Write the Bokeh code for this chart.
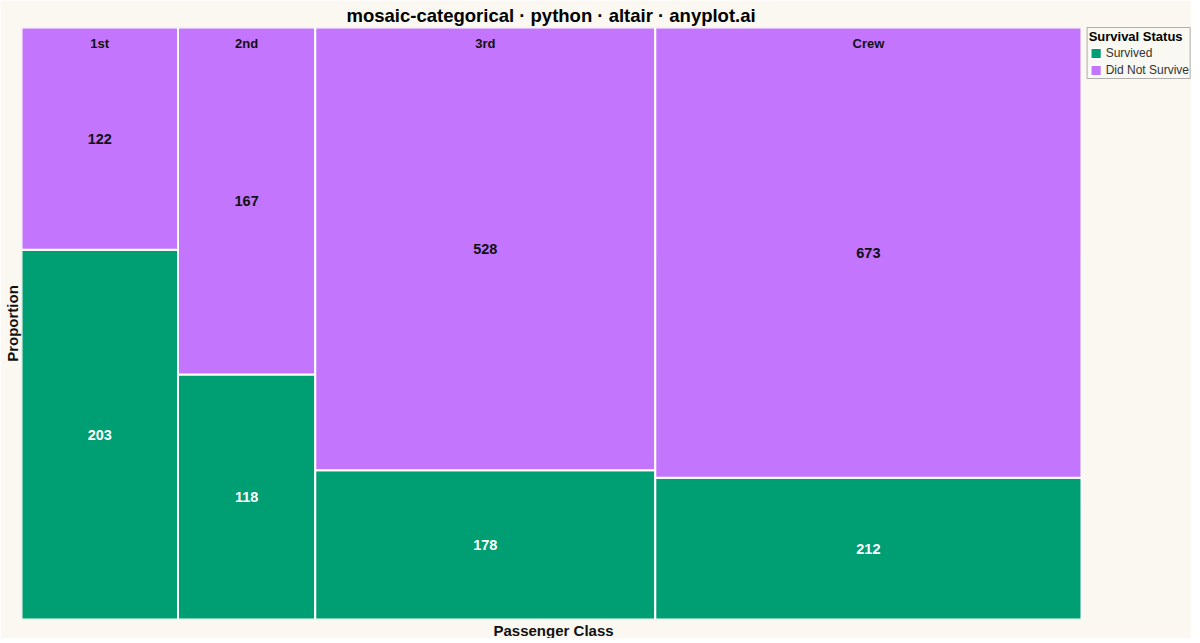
import numpy as np
from bokeh.plotting import figure
from bokeh.models import Title, Legend, LegendItem, ColumnDataSource, Range1d
from bokeh.core.properties import value
from bokeh.embed import file_html
from bokeh.resources import INLINE

# ---- data ----
classes = ["1st", "2nd", "3rd", "Crew"]
survived = [203, 118, 178, 212]
not_survived = [122, 167, 528, 673]
status_labels = ["Survived", "Did Not Survive"]
status_colors = ["#009E73", "#C475FD"]

FONT = "Liberation Sans"
BG = "#FAF8F1"

FRAME_W = 1170      # whole frame, legend lives in its right-hand part
MOSAIC_W = 1060     # pixels used by the mosaic itself

surv = np.array(survived, dtype=float)
dead = np.array(not_survived, dtype=float)
totals = surv + dead
right = np.cumsum(totals) / totals.sum()
left = right - totals / totals.sum()
frac = surv / totals

src_s = ColumnDataSource(dict(left=left, right=right, bottom=np.zeros(4), top=frac,
                              x=(left + right) / 2, y=frac / 2,
                              label=[str(v) for v in survived]))
src_d = ColumnDataSource(dict(left=left, right=right, bottom=frac, top=np.ones(4),
                              x=(left + right) / 2, y=(frac + 1) / 2,
                              label=[str(v) for v in not_survived]))

p = figure(frame_width=FRAME_W, frame_height=592,
           x_range=Range1d(0, FRAME_W / MOSAIC_W), y_range=Range1d(0, 1),
           x_axis_location=None, y_axis_location=None, toolbar_location=None,
           output_backend="svg", background_fill_color=BG, border_fill_color=BG,
           min_border_left=0, min_border_right=0, min_border_top=0, min_border_bottom=0)
p.outline_line_color = None
p.grid.visible = False

p.title.text = "mosaic-categorical · python · altair · anyplot.ai"
p.title.text_font = FONT
p.title.text_font_size = "18.5px"
p.title.text_font_style = "bold"
p.title.align = "left"
p.title.offset = 325
p.title.text_color = "#000000"
p.title.standoff = 4

r_s = p.quad(left="left", right="right", bottom="bottom", top="top", source=src_s,
             fill_color=status_colors[0], line_color="white", line_width=2)
r_d = p.quad(left="left", right="right", bottom="bottom", top="top", source=src_d,
             fill_color=status_colors[1], line_color="white", line_width=2)

p.text(x="x", y="y", text="label", source=src_s, text_align="center",
       text_baseline="middle", text_font=value(FONT), text_font_style="bold",
       text_font_size="14.5px", text_color="white")
p.text(x="x", y="y", text="label", source=src_d, text_align="center",
       text_baseline="middle", text_font=value(FONT), text_font_style="bold",
       text_font_size="14.5px", text_color="#111111")

p.text(x=(left + right) / 2, y=np.ones(4), text=classes, y_offset=16,
       text_align="center", text_baseline="middle", text_font=value(FONT),
       text_font_style="bold", text_font_size="13px", text_color="#111111")

xl = Title(text="Passenger Class", align="left", offset=472, text_font=FONT,
           text_font_size="15px", text_font_style="bold", standoff=0,
           text_color="#111111")
p.add_layout(xl, "below")
yl = Title(text="Proportion", align="center", text_font=FONT,
           text_font_size="15px", text_font_style="bold", standoff=2,
           text_color="#111111")
p.add_layout(yl, "left")

legend = Legend(items=[LegendItem(label=status_labels[0], renderers=[r_s]),
                       LegendItem(label=status_labels[1], renderers=[r_d])],
                title="Survival Status", location="top_right")
legend.title_text_font = FONT
legend.title_text_font_style = "bold"
legend.title_text_font_size = "13px"
legend.title_text_color = "#000000"
legend.title_standoff = 2
legend.label_text_font = FONT
legend.label_text_font_size = "12px"
legend.label_text_color = "#333333"
legend.label_standoff = 3
legend.glyph_width = 14
legend.glyph_height = 14
legend.label_height = 13
legend.spacing = 3
legend.padding = 1
legend.margin = 0
legend.border_line_color = "#666666"
legend.background_fill_color = BG
p.add_layout(legend)

open("out.html", "w").write(file_html(p, INLINE))
